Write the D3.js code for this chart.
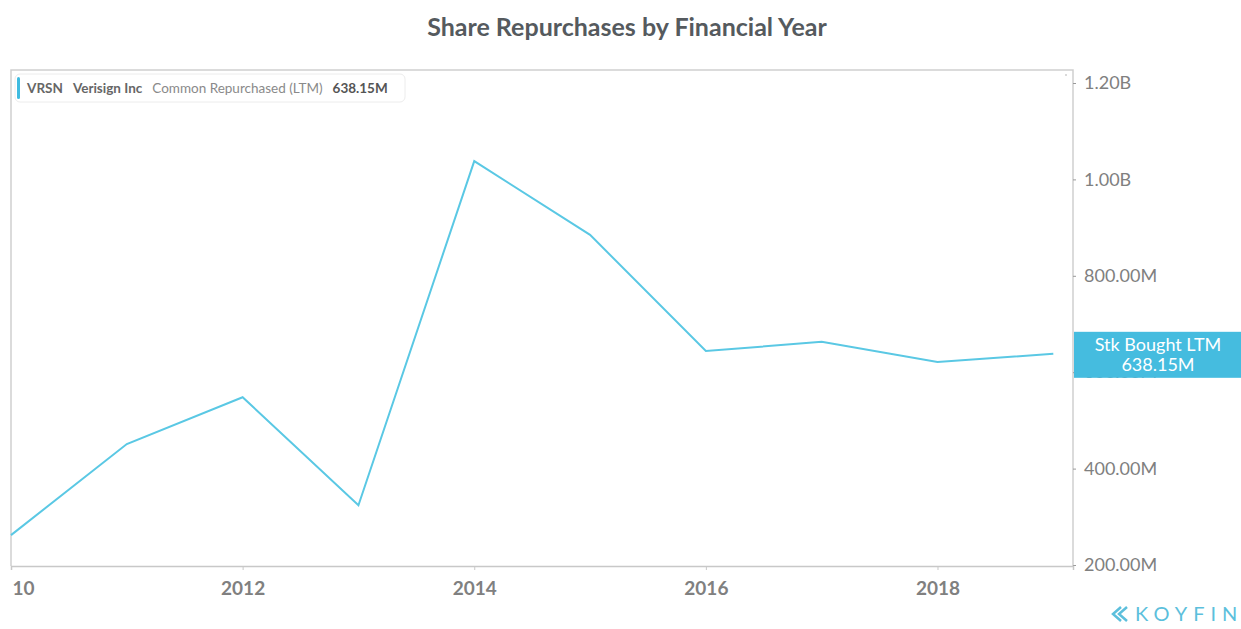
<!DOCTYPE html>
<html><head><meta charset="utf-8">
<script src="https://cdn.jsdelivr.net/npm/d3@7"></script>
<style>
body{margin:0;background:#fff;}
svg{display:block;font-family:Lato,"Open Sans",sans-serif;}
</style></head>
<body><svg id="c" width="1241" height="629"></svg>
<script>
const years = [2010, 2011, 2012, 2013, 2014, 2015, 2016, 2017, 2018, 2019];
const repurchases = [262e6, 451e6, 548e6, 324e6, 1038e6, 885e6, 644e6, 663e6, 621e6, 638.15e6];
const xTicks = [2010, 2012, 2014, 2016, 2018];
const yTicks = [200e6, 400e6, 600e6, 800e6, 1000e6, 1200e6];
const yTickLabels = ["200.00M", "400.00M", "600.00M", "800.00M", "1.00B", "1.20B"];
const title = "Share Repurchases by Financial Year";
const lastLabel = ["Stk Bought LTM", "638.15M"];

const svg = d3.select("#c");
const L = 11, R = 1073, T = 70, B = 566;
const x = d3.scaleLinear().domain([2010, 2019.17]).range([L, R]);
const y = d3.scaleLinear().domain([200e6, 1200e6]).range([565, 83]);

svg.append("text").attr("x", 627).attr("y", 36).attr("text-anchor", "middle")
  .attr("font-size", 25).attr("font-weight", 700).attr("fill", "#555a5e").text(title);

// frame
svg.append("path").attr("d", `M${L},${B} L${L},${T} L${R},${T} L${R},${B}`)
  .attr("fill", "none").attr("stroke", "#cfcfcf").attr("stroke-width", 1.5);

// y axis right
const ya = svg.append("g").attr("transform", `translate(${R},0)`)
  .call(d3.axisRight(y).tickValues(yTicks).tickFormat((d, i) => yTickLabels[i]).tickSize(3).tickPadding(8));
ya.select(".domain").remove();
ya.selectAll(".tick line").attr("stroke", "#999");
ya.selectAll("text").attr("font-size", 18).attr("fill", "#808080").attr("font-family", "Lato, sans-serif");

// x axis
const xa = svg.append("g").attr("transform", `translate(0,${B})`)
  .call(d3.axisBottom(x).tickValues(xTicks).tickFormat(d => d === 2010 ? "10" : String(d)).tickSize(4).tickPadding(12));
xa.select(".domain").attr("stroke", "#c8c8c8").attr("stroke-width", 1.5);
xa.selectAll(".tick line").attr("stroke", "#c8c8c8");
xa.selectAll("text").attr("font-size", 19).attr("font-weight", 700).attr("fill", "#808080")
  .attr("font-family", "Lato, sans-serif");
xa.selectAll(".tick").filter(d => d === 2010).select("text").attr("text-anchor", "start").attr("x", 1);

// line
const line = d3.line().x((d, i) => x(years[i])).y(d => y(d));
svg.append("path").datum(repurchases).attr("d", line).attr("fill", "none")
  .attr("stroke", "#5ac8e4").attr("stroke-width", 2);

// legend
const lg = svg.append("g");
lg.append("rect").attr("x", 15).attr("y", 74).attr("width", 390).attr("height", 28).attr("rx", 5)
  .attr("fill", "#fff").attr("stroke", "#ececec");
lg.append("rect").attr("x", 17).attr("y", 77).attr("width", 3).attr("height", 22).attr("rx", 1.5).attr("fill", "#3fbbe0");
const lt = lg.append("text").attr("x", 27).attr("y", 93).attr("font-size", 13.5);
lt.append("tspan").attr("font-weight", 700).attr("fill", "#666").text("VRSN");
lt.append("tspan").attr("dx", 10).attr("font-weight", 700).attr("fill", "#666").text("Verisign Inc");
lt.append("tspan").attr("dx", 10).attr("fill", "#8a8a8a").text("Common Repurchased (LTM)");
lt.append("tspan").attr("dx", 10).attr("font-weight", 700).attr("fill", "#555").text("638.15M");

// dot top right
svg.append("circle").attr("cx", 1066).attr("cy", 75).attr("r", 0.8).attr("fill", "#aaa");

// last value label
const ly = y(repurchases[repurchases.length - 1]);
svg.append("rect").attr("x", R + 1).attr("y", ly - 22).attr("width", 1241 - R).attr("height", 46).attr("fill", "#45bcdf");
svg.append("text").attr("x", 1158).attr("y", ly - 3).attr("text-anchor", "middle").attr("font-size", 18)
  .attr("fill", "#fff").text(lastLabel[0]);
svg.append("text").attr("x", 1158).attr("y", ly + 17).attr("text-anchor", "middle").attr("font-size", 18)
  .attr("fill", "#fff").text(lastLabel[1]);

// logo
const logo = svg.append("g").attr("transform", "translate(1112,621)");
logo.append("path").attr("d", "M9,-14 L1,-7 L9,0 M15,-14 L7,-7 L15,0").attr("fill", "none").attr("stroke", "#5cbfdc").attr("stroke-width", 2.5);
logo.append("text").attr("x", 23).attr("y", 0).attr("font-size", 20).attr("dx", "0 6 6 6 6 6")
  .attr("fill", "#5cbfdc").attr("font-weight", 400).text("KOYFIN");
</script></body></html>
